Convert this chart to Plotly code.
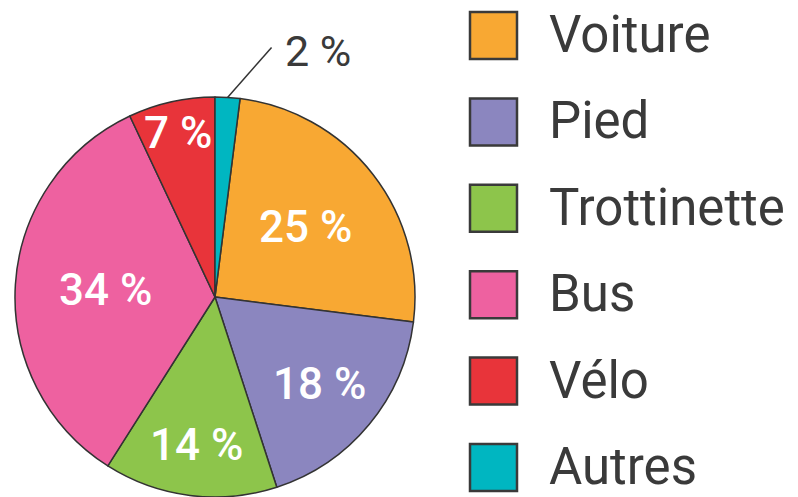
import math
import plotly.graph_objects as go

# ---- data ----
categories = ["Voiture", "Pied", "Trottinette", "Bus", "Vélo", "Autres"]
values = [25, 18, 14, 34, 7, 2]
colors = ["#F8A833", "#8B86BF", "#8DC54B", "#EE61A0", "#E8343A", "#00B6C1"]
slice_labels = ["25 %", "18 %", "14 %", "34 %", "7 %", "2 %"]

# ---- layout / style ----
W, H = 798, 497
CX, CY, R = 215, 297, 200
label_radius = [0.57, 0.68, 0.745, 0.55, 0.84]   # style: radial placement of inside labels
FONT = "Roboto"
DARK = "#3a3a3a"

total = sum(values)
rotation = values[-1] / total * 360  # last slice (Autres) starts at 12 o'clock


def px_to_paper(x, y):
    return x / W, 1 - y / H


fig = go.Figure(go.Pie(
    labels=categories,
    values=values,
    sort=False,
    direction="clockwise",
    rotation=rotation,
    marker=dict(colors=colors, line=dict(color="#333333", width=1.5)),
    textinfo="none",
    hoverinfo="label+percent",
    showlegend=False,
    domain=dict(x=[(CX - R) / W, (CX + R) / W], y=[(H - CY - R) / H, (H - CY + R) / H]),
))

annotations = []
shapes = []

# inside labels, placed at slice mid-angles
cum = 0
mids = []
for v in values:
    mids.append(rotation + (cum + v / 2) / total * 360)
    cum += v
for i in range(len(values) - 1):
    a = math.radians(mids[i])
    rr = R * label_radius[i]
    x, y = CX + rr * math.sin(a), CY - rr * math.cos(a)
    px, py = px_to_paper(x, y)
    annotations.append(dict(x=px, y=py, xref="paper", yref="paper", text=slice_labels[i],
                            showarrow=False, xanchor="center", yanchor="middle",
                            font=dict(family=FONT, size=44, color="white", weight=500)))

# outside label for the smallest slice with a leader line
a = math.radians(mids[-1])
x0, y0 = CX + R * math.sin(a), CY - R * math.cos(a)
x1, y1 = x0 + 44, y0 - 50
p0 = px_to_paper(x0, y0)
p1 = px_to_paper(x1, y1)
shapes.append(dict(type="line", xref="paper", yref="paper", x0=p0[0], y0=p0[1], x1=p1[0], y1=p1[1],
                   line=dict(color="#333333", width=1.5)))
pt = px_to_paper(x1 + 11, y1 + 4)
annotations.append(dict(x=pt[0], y=pt[1], xref="paper", yref="paper", text=slice_labels[-1],
                        showarrow=False, xanchor="left", yanchor="middle",
                        font=dict(family=FONT, size=43, color=DARK)))

# custom legend with large swatches
LX, LY0, LSTEP, LS = 470, 35.5, 86.4, 47
for i, (c, col) in enumerate(zip(categories, colors)):
    cy = LY0 + i * LSTEP
    a0 = px_to_paper(LX, cy - LS / 2)
    a1 = px_to_paper(LX + LS, cy + LS / 2)
    shapes.append(dict(type="rect", xref="paper", yref="paper", x0=a0[0], y0=a1[1], x1=a1[0], y1=a0[1],
                       fillcolor=col, line=dict(color="#3a3a3a", width=2.5)))
    tp = px_to_paper(LX + 77, cy - 1)
    annotations.append(dict(x=tp[0], y=tp[1], xref="paper", yref="paper", text=c,
                            showarrow=False, xanchor="left", yanchor="middle",
                            font=dict(family=FONT, size=51, color=DARK)))

fig.update_layout(
    width=W, height=H,
    margin=dict(l=0, r=0, t=0, b=0),
    paper_bgcolor="white", plot_bgcolor="white",
    shapes=shapes, annotations=annotations,
)

fig.write_html("out.html", config={"displayModeBar": False},
               post_script="document.body.style.margin='0px';")
